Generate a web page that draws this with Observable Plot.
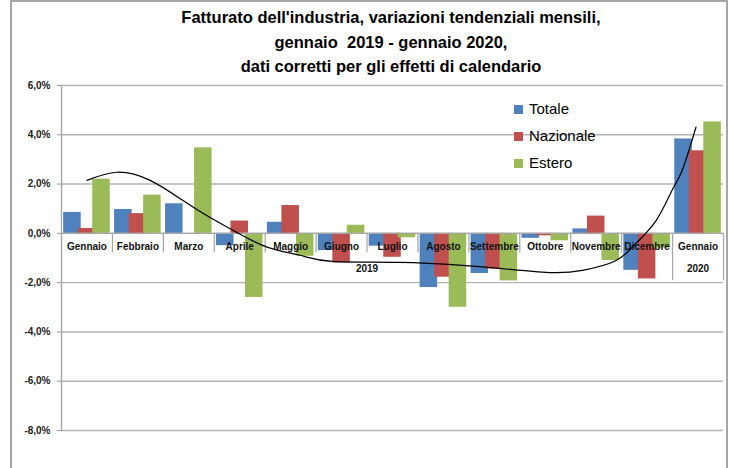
<!DOCTYPE html>
<html>
<head>
<meta charset="utf-8">
<script src="https://cdn.jsdelivr.net/npm/d3@7"></script>
<script src="https://cdn.jsdelivr.net/npm/@observablehq/plot@0.6"></script>
<style>
  body { margin: 0; background: #fff; }
  #wrap { position: relative; width: 732px; height: 468px; overflow: hidden; font-family: "Liberation Sans", Arial, sans-serif; }
  #border { position: absolute; left: 10px; top: 0; width: 718px; height: 480px; border: 2px solid #a6a6a6; box-sizing: border-box; }
  #title { position: absolute; left: 0; top: 5px; width: 732px; padding-left: 50px; box-sizing: border-box; text-align: center;
           font-family: "Liberation Sans Narrow", "Arial Narrow", "Liberation Sans", sans-serif; font-weight: bold; font-size: 16.5px; line-height: 24.5px; color: #000; }
  #plot { position: absolute; left: 0; top: 75px; }
  #legend { position: absolute; left: 514px; top: 100px; font-size: 15px; color: #000; }
  .li { position: relative; height: 27px; line-height: 17px; }
  .sw { position: absolute; left: 0; top: 5px; width: 9px; height: 9px; }
  .lt { position: absolute; left: 15px; top: 0; white-space: nowrap; }
</style>
</head>
<body>
<div id="wrap">
  <div id="border"></div>
  <div id="title">Fatturato dell'industria, variazioni tendenziali mensili,<br>gennaio&nbsp; 2019 - gennaio 2020,<br>dati corretti per gli effetti di calendario</div>
  <div id="plot"></div>
  <div id="legend"></div>
</div>
<script>
// ---- data ----
const months = ["Gennaio","Febbraio","Marzo","Aprile","Maggio","Giugno","Luglio","Agosto","Settembre","Ottobre","Novembre","Dicembre","Gennaio"];
const seriesNames = ["Totale","Nazionale","Estero"];
const seriesColors = ["#4F81BD","#C0504D","#9BBB59"];
const totale    = [0.85, 0.97, 1.2, -0.5, 0.45, -0.7, -0.52, -2.2, -1.63, -0.2, 0.18, -1.5, 3.83];
const nazionale = [0.2, 0.8, 0.0, 0.5, 1.13, -1.2, -0.97, -1.78, -1.45, -0.1, 0.7, -1.85, 3.35];
const estero    = [2.2, 1.55, 3.47, -2.6, -0.93, 0.33, -0.18, -3.0, -1.93, -0.3, -1.1, -0.6, 4.52];
const yTicks = [-8, -6, -4, -2, 0, 2, 4, 6];
const years = [{label: "2019", from: 0, to: 11}, {label: "2020", from: 12, to: 12}];
// trend line (position in month index, value in %)
const trendX = [0, 0.59, 1.24, 1.88, 2.41, 2.94, 3.55, 4.18, 4.82, 6.14, 7.37, 8.10, 9.08, 9.73, 10.39, 10.78, 11.18, 11.49, 11.69, 11.96];
const trendY = [2.15, 2.48, 2.15, 1.34, 0.65, 0.04, -0.57, -0.89, -1.14, -1.18, -1.30, -1.42, -1.59, -1.50, -1.10, -0.41, 0.53, 1.75, 2.56, 4.31];

// ---- build tables ----
const values = [totale, nazionale, estero];
const barW = 0.344, step = 0.285, off = (1 - (2 * step + barW)) / 2;
const bars = [];
values.forEach((arr, j) => arr.forEach((v, i) => {
  const x1 = i - 0.5 + off + j * step;
  bars.push({i, j, value: v, x1, x2: x1 + barW, color: seriesColors[j]});
}));
const labels = months.map((m, i) => ({i, m}));
const shortSeps = d3.range(1, 12).map(i => ({x: i - 0.5}));
const longSeps = [{x: 11.5}, {x: 12.5}];
const trend = trendX.map((x, k) => ({x, y: trendY[k]}));

const fmt = d => d.toFixed(1).replace(".", ",") + "%";

const chart = Plot.plot({
  width: 732,
  height: 393,
  marginTop: 10,
  marginBottom: 38,
  marginLeft: 61,
  marginRight: 9,
  style: {fontFamily: "Liberation Sans, Arial, sans-serif", background: "transparent"},
  x: {domain: [-0.5, 12.5], axis: null},
  y: {domain: [-8, 6], ticks: yTicks, tickFormat: fmt, tickSize: 4, tickPadding: 7, label: null},
  marks: [
    Plot.ruleY(yTicks, {stroke: "#b4b4b4", strokeWidth: 1.4}),
    Plot.axisY({ticks: yTicks, tickFormat: fmt, tickSize: 4, tickPadding: 7, stroke: "#999", fontWeight: "bold", fontSize: 10, fill: "#222", label: null}),
    Plot.frame({anchor: "left", stroke: "#a6a6a6", strokeWidth: 1.4}),
    Plot.rect(bars, {x1: "x1", x2: "x2", y1: 0, y2: "value", fill: "color"}),
    Plot.ruleY([0], {stroke: "#a6a6a6", strokeWidth: 1.4}),
    Plot.ruleX(shortSeps, {x: "x", y1: 0, y2: -0.8, stroke: "#a6a6a6", strokeWidth: 1.2}),
    Plot.ruleX(longSeps, {x: "x", y1: 0, y2: -1.92, stroke: "#a6a6a6", strokeWidth: 1.2}),
    Plot.text(labels, {x: "i", y: 0, text: "m", dy: 13, fontSize: 10, fontWeight: "bold", fill: "#111"}),
    Plot.text(years, {x: d => (d.from + d.to) / 2, y: 0, text: "label", dy: 35, fontSize: 10, fontWeight: "bold", fill: "#111"}),
    Plot.line(trend, {x: "x", y: "y", curve: "natural", stroke: "#000", strokeWidth: 1.2})
  ]
});
document.getElementById("plot").appendChild(chart);

const legend = document.getElementById("legend");
seriesNames.forEach((n, j) => {
  const row = document.createElement("div");
  row.className = "li";
  row.innerHTML = `<div class="sw" style="background:${seriesColors[j]}"></div><div class="lt">${n}</div>`;
  legend.appendChild(row);
});
</script>
</body>
</html>
